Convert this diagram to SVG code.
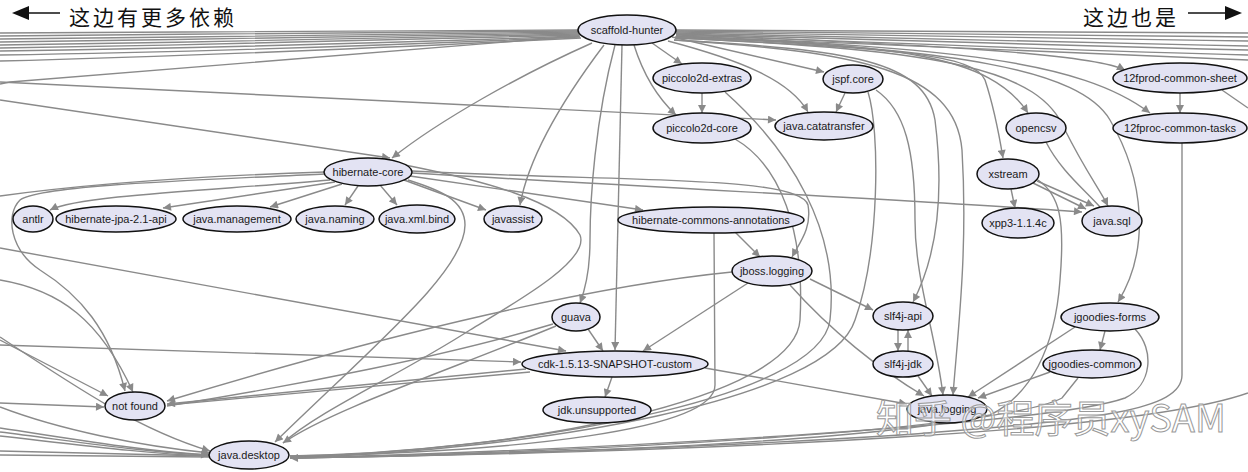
<svg xmlns="http://www.w3.org/2000/svg" width="1248" height="472" viewBox="0 0 1248 472">
<style>
.node ellipse{fill:#e3e3f3;stroke:#111;stroke-width:1.5}
.node text{font-family:"Liberation Sans",Arial,sans-serif;font-size:11px;fill:#1a1a1a;text-anchor:middle}
#edges path{fill:none;stroke:#8a8a8a;stroke-width:1.4}
#edges path.a{marker-end:url(#arr)}
.title{font-family:"Noto Sans CJK SC",sans-serif;font-size:21px;letter-spacing:3px;fill:#111}
</style>
<defs>
<marker id="arr" viewBox="0 0 10 10" refX="10" refY="5" markerWidth="9" markerHeight="8" markerUnits="userSpaceOnUse" orient="auto"><path d="M0,0 L10,5 L0,10 z" fill="#8a8a8a"/></marker>
</defs>
<rect width="1248" height="472" fill="#fff"/>
<g id="titles">
<polygon points="12,13 29,6 29,20" fill="#111"/>
<line x1="29" y1="13" x2="60" y2="13" stroke="#111" stroke-width="1.5"/>
<text class="title" x="69" y="24.5">这边有更多依赖</text>
<text class="title" x="1083" y="24.5">这边也是</text>
<line x1="1188" y1="13" x2="1225" y2="13" stroke="#111" stroke-width="1.5"/>
<polygon points="1242,13 1225,6 1225,20" fill="#111"/>
</g>
<g id="edges">
<path d="M578,30 C450,30 200,32 0,33"/>
<path d="M578,31 C450,32 200,34 0,36"/>
<path d="M578,32 C450,34 200,37 0,39"/>
<path d="M578,33 C440,36 200,39 0,42"/>
<path d="M579,34 C440,38 200,42 0,45"/>
<path d="M579,35 C430,40 200,45 0,48"/>
<path d="M580,36 C420,42 200,48 0,51"/>
<path d="M580,37 C420,44 200,52 0,55"/>
<path d="M581,38 C420,46 200,56 0,61"/>
<path d="M579,36 L10,82 L0,84"/>
<path class="a" d="M0,82 L776,120"/>
<path class="a" d="M0,100 L390,158"/>
<path d="M676,30 C850,31 1050,32 1248,33"/>
<path d="M676,31 C850,33 1050,35 1248,37"/>
<path d="M676,32 C850,35 1050,38 1248,41"/>
<path d="M676,33 C850,37 1050,42 1248,46"/>
<path d="M676,34 C850,39 1050,46 1248,50"/>
<path d="M676,35 C850,41 1050,50 1248,55"/>
<path d="M676,36 C900,44 1100,52 1248,60"/>
<path class="a" d="M676,34 C900,44 1090,52 1125,70"/>
<path class="a" d="M676,36 C950,48 1080,60 1150,113"/>
<path class="a" d="M676,37 C900,45 990,55 1028,113"/>
<path class="a" d="M675,38 C900,48 975,55 985,80 C995,110 1000,140 1003,158"/>
<path class="a" d="M675,38 C950,50 1040,70 1065,130 C1085,170 1100,190 1108,206"/>
<path class="a" d="M675,37 C960,48 1080,70 1110,120 C1145,180 1150,250 1118,302"/>
<path class="a" d="M674,40 C850,50 925,60 935,120 C945,200 935,260 913,302"/>
<path class="a" d="M674,40 C860,52 955,70 962,150 C968,250 958,330 953,395"/>
<path class="a" d="M672,37 L824,72"/>
<path class="a" d="M668,41 C740,60 790,80 808,112"/>
<path class="a" d="M652,43 L682,64"/>
<path class="a" d="M634,45 C645,80 660,100 676,115"/>
<path class="a" d="M592,43 C520,75 440,120 392,158"/>
<path class="a" d="M604,45 C570,90 530,150 520,205"/>
<path class="a" d="M615,45 C595,120 590,200 590,240 C590,270 585,290 580,303"/>
<path class="a" d="M622,45 L615,350"/>
<path class="a" d="M702,93 L702,113"/>
<path d="M725,92 C790,150 840,230 830,320 C820,400 520,450 290,457"/>
<path d="M735,139 C780,165 805,230 800,320 C795,400 520,452 290,456"/>
<path class="a" d="M845,93 L836,112"/>
<path d="M868,92 C880,130 880,250 855,320 C830,400 540,450 290,458"/>
<path class="a" d="M876,90 C905,110 915,150 915,220 C915,280 935,330 943,395"/>
<path class="a" d="M330,180 C220,190 80,195 50,210"/>
<path class="a" d="M335,182 L163,208"/>
<path class="a" d="M342,184 L270,207"/>
<path class="a" d="M358,186 L345,205"/>
<path class="a" d="M380,185 L397,205"/>
<path class="a" d="M404,180 L486,210"/>
<path class="a" d="M410,176 L643,210"/>
<path class="a" d="M412,173 C700,190 1000,205 1082,212"/>
<path class="a" d="M412,171 C620,182 800,175 808,205 C812,228 800,242 792,257"/>
<path class="a" d="M325,174 C200,180 40,185 20,200 C5,215 10,250 40,270 C80,295 110,330 125,391"/>
<path d="M325,172 C200,176 80,185 0,196"/>
<path class="a" d="M408,180 C440,190 465,200 465,225 C465,270 380,340 275,442"/>
<path d="M405,165 C480,180 560,200 580,235 C590,260 520,300 470,330 C400,375 320,410 283,443"/>
<path class="a" d="M0,248 L566,351"/>
<path class="a" d="M0,280 C60,290 100,320 133,392"/>
<path class="a" d="M0,340 L108,396"/>
<path class="a" d="M0,337 C80,390 140,430 210,451"/>
<path class="a" d="M0,345 L521,362"/>
<path class="a" d="M0,403 L104,407"/>
<path class="a" d="M0,407 C60,430 140,446 210,453"/>
<path class="a" d="M0,428 C80,440 150,452 209,455"/>
<path d="M0,432 C80,442 150,453 209,455"/>
<path d="M0,436 C80,445 150,454 209,456"/>
<path d="M0,451 L209,456"/>
<path d="M0,455 L209,457"/>
<path class="a" d="M732,272 C600,285 400,330 167,401"/>
<path class="a" d="M526,369 L167,404"/>
<path d="M530,372 L167,405"/>
<path d="M553,324 C450,355 300,385 167,406"/>
<path class="a" d="M556,326 C450,370 330,410 283,443"/>
<path class="a" d="M705,368 L907,404"/>
<path class="a" d="M612,377 L605,397"/>
<path class="a" d="M588,329 L603,351"/>
<path class="a" d="M748,283 L643,351"/>
<path class="a" d="M810,279 L873,310"/>
<path class="a" d="M790,285 C830,330 880,370 924,396"/>
<path class="a" d="M735,232 L760,257"/>
<path d="M714,233 L715,385 C715,430 520,452 290,456"/>
<path class="a" d="M898,330 L898,351"/>
<path class="a" d="M908,351 L908,330"/>
<path class="a" d="M918,376 L932,396"/>
<path class="a" d="M1105,331 L1100,350"/>
<path class="a" d="M1075,327 L968,397"/>
<path class="a" d="M1050,372 L978,398"/>
<path d="M1135,329 C1155,350 1152,385 1125,398 C1050,425 600,450 290,458"/>
<path d="M1078,378 L1062,398 C1000,430 600,452 290,458"/>
<path d="M1182,143 L1182,375 C1182,410 1100,420 900,435 C700,448 450,455 290,458"/>
<path class="a" d="M1248,393 C1200,410 1100,425 900,437 C700,450 450,456 290,458"/>
<path class="a" d="M1011,189 L1015,208"/>
<path class="a" d="M1033,183 L1086,209"/>
<path class="a" d="M1037,181 L1094,206"/>
<path d="M1046,142 C1060,170 1085,190 1100,207"/>
<path d="M1038,180 C1060,195 1065,220 1060,280 C1055,350 1030,395 990,415 C850,445 500,455 290,458"/>
<path class="a" d="M1180,93 L1180,113"/>
<path d="M1222,90 L1248,108"/>
</g>
<g id="n-scaffold-hunter" class="node"><ellipse cx="627" cy="30" rx="49" ry="15"/><text x="627" y="34">scaffold-hunter</text></g>
<g id="n-piccolo2d-extras" class="node"><ellipse cx="702" cy="78" rx="49" ry="15"/><text x="702" y="82">piccolo2d-extras</text></g>
<g id="n-piccolo2d-core" class="node"><ellipse cx="702" cy="128" rx="49" ry="15"/><text x="702" y="132">piccolo2d-core</text></g>
<g id="n-jspf-core" class="node"><ellipse cx="853" cy="79" rx="30" ry="14"/><text x="853" y="83">jspf.core</text></g>
<g id="n-java-catatransfer" class="node"><ellipse cx="824" cy="126" rx="49" ry="14"/><text x="824" y="130">java.catatransfer</text></g>
<g id="n-12fprod-common-sheet" class="node"><ellipse cx="1180" cy="78" rx="67" ry="15"/><text x="1180" y="82">12fprod-common-sheet</text></g>
<g id="n-12fproc-common-tasks" class="node"><ellipse cx="1180" cy="128" rx="67" ry="15"/><text x="1180" y="132">12fproc-common-tasks</text></g>
<g id="n-opencsv" class="node"><ellipse cx="1036" cy="128" rx="30" ry="15"/><text x="1036" y="132">opencsv</text></g>
<g id="n-xstream" class="node"><ellipse cx="1008" cy="174" rx="31" ry="15"/><text x="1008" y="178">xstream</text></g>
<g id="n-xpp3" class="node"><ellipse cx="1018" cy="223" rx="36" ry="15"/><text x="1018" y="227">xpp3-1.1.4c</text></g>
<g id="n-java-sql" class="node"><ellipse cx="1112" cy="221" rx="30" ry="15"/><text x="1112" y="225">java.sql</text></g>
<g id="n-hibernate-core" class="node"><ellipse cx="368" cy="172" rx="44" ry="14"/><text x="368" y="176">hibernate-core</text></g>
<g id="n-antlr" class="node"><ellipse cx="33" cy="219" rx="20" ry="13"/><text x="33" y="223">antlr</text></g>
<g id="n-hibernate-jpa" class="node"><ellipse cx="116" cy="219" rx="60" ry="13"/><text x="116" y="223">hibernate-jpa-2.1-api</text></g>
<g id="n-java-management" class="node"><ellipse cx="237" cy="219" rx="54" ry="13"/><text x="237" y="223">java.management</text></g>
<g id="n-java-naming" class="node"><ellipse cx="335" cy="219" rx="39" ry="13"/><text x="335" y="223">java.naming</text></g>
<g id="n-java-xml-bind" class="node"><ellipse cx="417" cy="219" rx="38" ry="14"/><text x="417" y="223">java.xml.bind</text></g>
<g id="n-javassist" class="node"><ellipse cx="513" cy="219" rx="29" ry="13"/><text x="513" y="223">javassist</text></g>
<g id="n-hibernate-commons-annotations" class="node"><ellipse cx="711" cy="220" rx="93" ry="13"/><text x="711" y="224">hibernate-commons-annotations</text></g>
<g id="n-jboss-logging" class="node"><ellipse cx="772" cy="271" rx="40" ry="15"/><text x="772" y="275">jboss.logging</text></g>
<g id="n-guava" class="node"><ellipse cx="576" cy="317" rx="24" ry="14"/><text x="576" y="321">guava</text></g>
<g id="n-cdk" class="node"><ellipse cx="615" cy="364" rx="93" ry="13"/><text x="615" y="368">cdk-1.5.13-SNAPSHOT-custom</text></g>
<g id="n-jdk-unsupported" class="node"><ellipse cx="597" cy="410" rx="54" ry="13"/><text x="597" y="414">jdk.unsupported</text></g>
<g id="n-not-found" class="node"><ellipse cx="135" cy="406" rx="30" ry="14"/><text x="135" y="410">not found</text></g>
<g id="n-java-desktop" class="node"><ellipse cx="249" cy="455" rx="40" ry="14"/><text x="249" y="459">java.desktop</text></g>
<g id="n-slf4j-api" class="node"><ellipse cx="903" cy="316" rx="30" ry="14"/><text x="903" y="320">slf4j-api</text></g>
<g id="n-slf4j-jdk" class="node"><ellipse cx="903" cy="364" rx="30" ry="13"/><text x="903" y="368">slf4j-jdk</text></g>
<g id="n-java-logging" class="node"><ellipse cx="947" cy="409" rx="40" ry="14"/><text x="947" y="413">java.logging</text></g>
<g id="n-jgoodies-forms" class="node"><ellipse cx="1110" cy="317" rx="49" ry="14"/><text x="1110" y="321">jgoodies-forms</text></g>
<g id="n-jgoodies-common" class="node"><ellipse cx="1092" cy="364" rx="49" ry="14"/><text x="1092" y="368">jgoodies-common</text></g>
<text x="876" y="432" font-family="'Noto Sans CJK SC',sans-serif" font-size="38" fill="#ffffff" fill-opacity="0.55" stroke="#9a9a9a" stroke-width="1">知乎 @程序员xySAM</text>
</svg>
